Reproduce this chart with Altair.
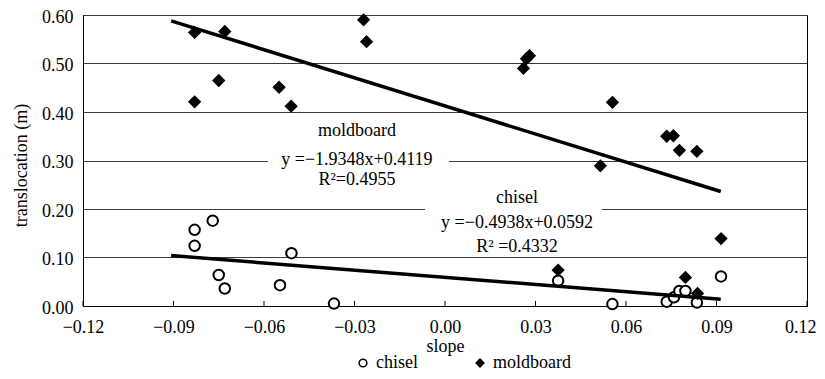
import altair as alt
import pandas as pd

FONT = "Liberation Serif"

# ---- data ----
chisel_x = [-0.083, -0.083, -0.077, -0.075, -0.073, -0.0547, -0.0509, -0.0368,
            0.0375, 0.0555, 0.0735, 0.0759, 0.0777, 0.0797, 0.0835, 0.0915]
chisel_y = [0.157, 0.124, 0.176, 0.064, 0.036, 0.043, 0.109, 0.005,
            0.052, 0.004, 0.009, 0.018, 0.031, 0.031, 0.007, 0.061]

moldboard_x = [-0.083, -0.083, -0.075, -0.073, -0.055, -0.051, -0.027, -0.026,
               0.026, 0.027, 0.028, 0.0555, 0.0515, 0.0735, 0.0757, 0.0777,
               0.0835, 0.0915, 0.0375, 0.0797, 0.0837]
moldboard_y = [0.564, 0.421, 0.465, 0.566, 0.451, 0.412, 0.590, 0.545,
               0.490, 0.510, 0.516, 0.420, 0.289, 0.350, 0.351, 0.321,
               0.319, 0.139, 0.074, 0.059, 0.026]

# trend line end points
trend_x = [-0.0908, 0.0914]
chisel_trend_y = [0.104, 0.014]
moldboard_trend_y = [0.588, 0.236]

x_ticks = [-0.12, -0.09, -0.06, -0.03, 0.0, 0.03, 0.06, 0.09, 0.12]
y_ticks = [0.0, 0.1, 0.2, 0.3, 0.4, 0.5, 0.6]

# annotations
ann_lines = ["moldboard", "y =\u22121.9348x+0.4119", "R\u00b2=0.4955",
             "chisel", "y =\u22120.4938x+0.0592", "R\u00b2 =0.4332"]
ann_x = [-0.0292, -0.0292, -0.0292, 0.0239, 0.0239, 0.0239]
ann_y = [0.361, 0.301, 0.260, 0.223, 0.171, 0.122]

box_x1 = [-0.0587, -0.0066]
box_x2 = [0.0013, 0.052]
box_y1 = [0.25, 0.125]
box_y2 = [0.37, 0.235]

# ---- tables ----
pts = pd.DataFrame({
    "x": chisel_x + moldboard_x,
    "y": chisel_y + moldboard_y,
    "series": ["chisel"] * len(chisel_x) + ["moldboard"] * len(moldboard_x),
})
trend = pd.DataFrame({
    "x": trend_x + trend_x,
    "y": chisel_trend_y + moldboard_trend_y,
    "series": ["chisel"] * 2 + ["moldboard"] * 2,
})
ann = pd.DataFrame({"text": ann_lines, "x": ann_x, "y": ann_y})
boxes = pd.DataFrame({"x1": box_x1, "x2": box_x2, "y1": box_y1, "y2": box_y2})
ticks = pd.DataFrame({"t": x_ticks})

xs = alt.Scale(domain=[-0.12, 0.12], nice=False, zero=False)
ys = alt.Scale(domain=[0, 0.6], nice=False, zero=False)

x_axis = alt.Axis(
    values=x_ticks, format=".2f", grid=False, ticks=False, tickSize=0,
    labelPadding=12, labelFlush=False, title="slope", titlePadding=1,
    labelAlign={"condition": {"test": "datum.value >= 0.119", "value": "right"},
                "value": "center"},
    labelOffset={"condition": {"test": "datum.value >= 0.119", "value": 9},
                 "value": 0},
)
y_axis = alt.Axis(values=y_ticks, format=".2f", grid=True, gridColor="#3a3a3a",
                  gridWidth=1, ticks=False, tickSize=0, labelPadding=10, labelOffset=2,
                  title="translocation (m)", titleX=-53, titleY=150)


def X(field):
    return alt.X(field, type="quantitative", scale=xs, axis=x_axis, title="slope")


def Y(field):
    return alt.Y(field, type="quantitative", scale=ys, axis=y_axis, title="translocation (m)")


legend = alt.Legend(orient="none", legendX=271, legendY=339, direction="horizontal",
                    title=None, labelFont=FONT, labelFontSize=18, labelColor="black",
                    symbolSize=60, symbolStrokeWidth=1.5,
                    columnPadding=53, labelOffset=4)

dom = ["chisel", "moldboard"]

box_layer = alt.Chart(boxes).mark_rect(color="white").encode(
    x=X("x1"), x2="x2", y=Y("y1"), y2="y2")

tick_layer = alt.Chart(ticks).mark_rule(color="black", strokeWidth=1).encode(
    x=X("t"), y=alt.value(291), y2=alt.value(286))

point_layer = alt.Chart(pts).mark_point(filled=True, strokeWidth=2,
                                        opacity=1, size=110).encode(
    x=X("x"), y=Y("y"),
    fill=alt.Fill("series:N", scale=alt.Scale(domain=dom, range=["white", "black"]),
                  legend=legend),
    stroke=alt.Stroke("series:N", scale=alt.Scale(domain=dom, range=["black", "black"]),
                      legend=legend),
    shape=alt.Shape("series:N", scale=alt.Scale(domain=dom, range=["circle", "diamond"]),
                    legend=legend),
)

line_layer = alt.Chart(trend).mark_line(color="black", strokeWidth=3.5).encode(
    x=X("x"), y=Y("y"), detail="series:N")

text_layer = alt.Chart(ann).mark_text(font=FONT, fontSize=18, align="center",
                                      baseline="middle", color="black").encode(
    x=X("x"), y=Y("y"), text="text:N")

chart = alt.layer(box_layer, tick_layer, point_layer, line_layer, text_layer).properties(
    width=724, height=291,
    padding={"left": 75, "top": 7, "right": 10, "bottom": 65},
    autosize=alt.AutoSizeParams(type="none"),
    background="white",
).configure_axis(
    labelFont=FONT, labelFontSize=18, labelColor="black",
    titleFont=FONT, titleFontSize=18, titleFontWeight="normal", titleColor="black",
    domainColor="black", domainWidth=1,
).configure_view(stroke="black", strokeWidth=1)

chart.save("out.html", embed_options={"renderer": "svg", "actions": False})
